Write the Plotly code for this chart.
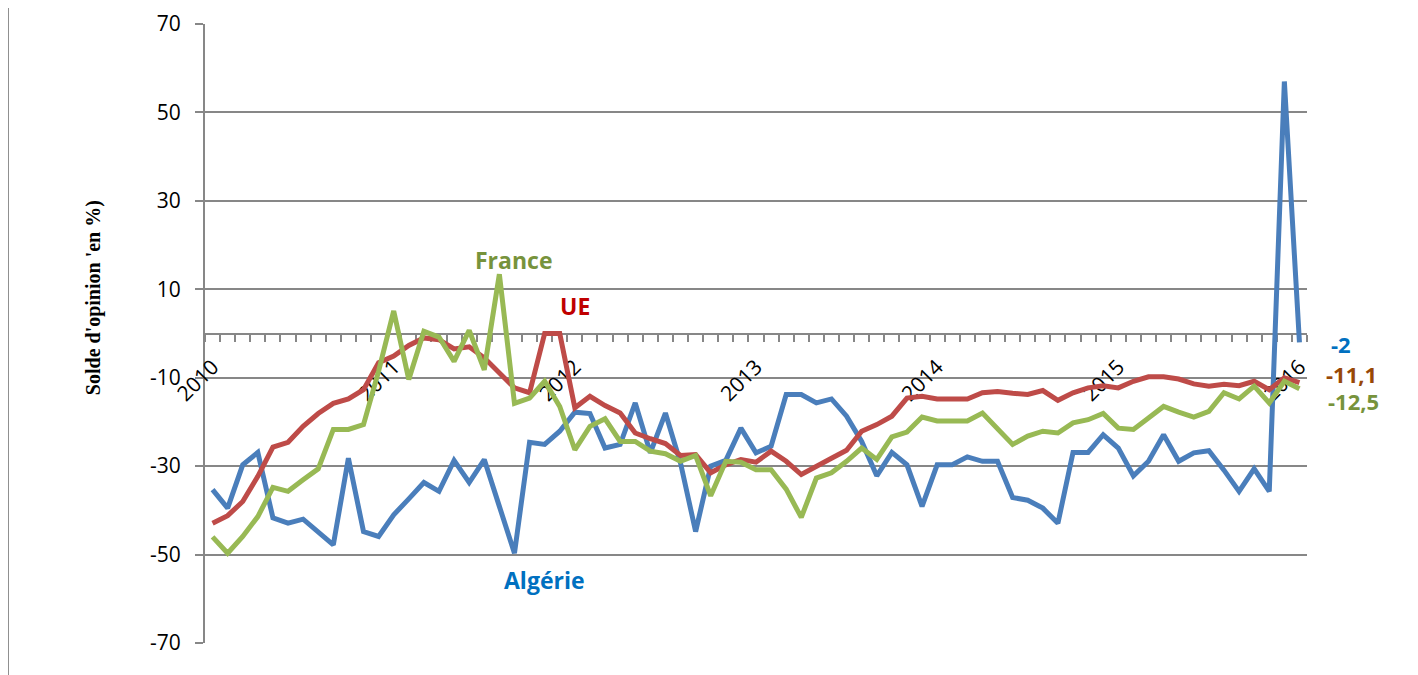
import plotly.graph_objects as go

# Monthly categories: January 2010 .. January 2016 (73 months)
years = ["2010", "2011", "2012", "2013", "2014", "2015", "2016"]
months = [f"{y}-{m:02d}" for y in years[:-1] for m in range(1, 13)] + ["2016-01"]
year_ticks = [f"{y}-01" for y in years]

algerie = [-35.3, -39.5, -29.7, -26.9, -41.7, -42.9, -42.0, -44.8, -47.8, -28.2, -44.8, -45.9,
           -41.0, -37.4, -33.7, -35.7, -28.7, -33.7, -28.5, -39.1, -49.7, -24.6, -25.1, -22.1,
           -17.8, -18.1, -25.9, -25.1, -15.7, -27.0, -18.0, -29.3, -44.8, -30.0, -28.7, -21.4,
           -27.0, -25.5, -13.8, -13.8, -15.7, -14.8, -18.7, -24.4, -32.2, -26.9, -29.7, -39.1,
           -29.7, -29.7, -27.9, -28.9, -28.9, -37.1, -37.7, -39.5, -42.9, -26.9, -26.9, -22.9,
           -25.9, -32.2, -28.9, -22.9, -28.9, -27.0, -26.5, -30.9, -35.7, -30.6, -35.7, 57.0,
           -2.0]
ue = [-42.9, -41.2, -38.0, -32.3, -25.7, -24.6, -21.0, -18.1, -15.8, -14.8, -12.7, -6.6,
      -5.1, -2.7, -1.0, -1.4, -3.5, -3.0, -5.5, -8.9, -12.3, -13.4, 0.0, 0.0,
      -16.8, -14.2, -16.3, -18.0, -22.5, -23.8, -24.9, -27.6, -27.4, -31.5, -29.7, -28.5,
      -29.1, -26.6, -28.9, -31.9, -30.2, -28.2, -26.4, -22.1, -20.6, -18.7, -14.6, -14.2,
      -14.8, -14.8, -14.8, -13.4, -13.1, -13.5, -13.8, -12.9, -15.1, -13.4, -12.3, -11.8,
      -12.3, -10.8, -9.8, -9.8, -10.3, -11.4, -11.9, -11.5, -11.8, -10.8, -12.7, -10.0,
      -11.1]
france = [-46.0, -49.7, -45.9, -41.4, -34.8, -35.7, -33.1, -30.6, -21.7, -21.7, -20.6, -8.5,
          5.1, -10.4, 0.5, -0.8, -6.3, 0.7, -8.2, 13.4, -15.8, -14.6, -10.8, -16.5,
          -26.3, -21.0, -19.3, -24.4, -24.4, -26.6, -27.2, -28.9, -27.6, -36.7, -28.9, -29.1,
          -30.8, -30.8, -35.2, -41.6, -32.7, -31.5, -28.9, -25.9, -28.5, -23.4, -22.3, -18.9,
          -19.8, -19.8, -19.8, -18.0, -21.4, -25.1, -23.2, -22.1, -22.5, -20.2, -19.5, -18.1,
          -21.4, -21.7, -19.1, -16.5, -17.8, -18.9, -17.6, -13.4, -14.8, -11.9, -15.7, -10.8,
          -12.5]

end_labels = ["-2", "-11,1", "-12,5"]
y_ticks = [-70, -50, -30, -10, 10, 30, 50, 70]
y_ticktext = ["-70", "-50", "-30", "-10", "10", "30", "50", "70"]

GRID = "#878787"
C_ALG, C_UE, C_FR = "#4A7EBB", "#BE4B48", "#98B954"

fig = go.Figure()
# invisible helper trace so the boundary-tick axis exists
fig.add_trace(go.Scatter(x=[-0.5, len(months) - 0.5], y=[0, 0], xaxis="x2", mode="lines",
                         line=dict(width=0), hoverinfo="skip", showlegend=False))
for name, vals, col in [("Algérie", algerie, C_ALG), ("UE", ue, C_UE), ("France", france, C_FR)]:
    fig.add_trace(go.Scatter(x=months, y=vals, mode="lines", name=name,
                             line=dict(color=col, width=5), showlegend=False))

fig.update_layout(
    width=1418, height=675,
    margin=dict(l=197, r=119, t=16, b=40),
    paper_bgcolor="white", plot_bgcolor="white",
    font=dict(family="Open Sans", size=21, color="black"),
    xaxis=dict(type="category", categoryorder="array", categoryarray=months,
               range=[-0.5, len(months) - 0.5], anchor="free", position=0.5,
               tickmode="array", tickvals=year_ticks, ticktext=years, tickangle=-45,
               ticks="", showline=False, showgrid=False, zeroline=False,
               ticklabelstandoff=16, automargin=False, layer="below traces"),
    xaxis2=dict(overlaying="x", range=[-0.5, len(months) - 0.5], anchor="free", position=0.5,
                tickmode="linear", tick0=-0.5, dtick=1, ticks="outside", ticklen=7,
                tickwidth=2, tickcolor=GRID, showticklabels=False, showline=True,
                linecolor=GRID, linewidth=2, showgrid=False, zeroline=False,
                automargin=False, layer="below traces"),
    yaxis=dict(range=[-70, 70], tickmode="array", tickvals=y_ticks, ticktext=y_ticktext,
               showgrid=True, gridcolor=GRID, gridwidth=2, showline=True, linecolor=GRID,
               linewidth=2, ticks="outside", ticklen=8, tickwidth=2, tickcolor=GRID,
               zeroline=False, ticklabelstandoff=10, automargin=False, layer="below traces"),
)

lab_font = dict(family="Open Sans", size=23)
fig.add_annotation(x=months[20], y=16.6, text="<b>France</b>", showarrow=False,
                   font=dict(color="#77933C", **lab_font))
fig.add_annotation(x=months[24], y=6.2, text="<b>UE</b>", showarrow=False,
                   font=dict(color="#C00000", **lab_font))
fig.add_annotation(x=months[22], y=-55.8, text="<b>Algérie</b>", showarrow=False,
                   font=dict(color="#0070C0", **lab_font))

end_font = dict(family="Open Sans", size=22)
fig.add_annotation(x=months[-1], y=algerie[-1], text=f"<b>{end_labels[0]}</b>", showarrow=False,
                   xanchor="center", xshift=42, yshift=-2, borderpad=0,
                   font=dict(color="#0070C0", **end_font))
fig.add_annotation(x=months[-1], y=ue[-1], text=f"<b>{end_labels[1]}</b>", showarrow=False,
                   xanchor="center", xshift=52, yshift=9, borderpad=0,
                   font=dict(color="#984807", **end_font))
fig.add_annotation(x=months[-1], y=france[-1], text=f"<b>{end_labels[2]}</b>", showarrow=False,
                   xanchor="center", xshift=54, yshift=-12, borderpad=0,
                   font=dict(color="#77933C", **end_font))

# y-axis title
fig.add_annotation(xref="paper", x=-0.1016, xanchor="center", y=8, yanchor="middle",
                   text="<b>Solde d'opinion 'en %)</b>", textangle=-90, showarrow=False,
                   font=dict(family="Liberation Serif", size=20, color="black"))

# left frame border
fig.add_shape(type="line", xref="paper", yref="paper", x0=-0.1788, x1=-0.1788,
              y0=-0.07, y1=1.04, line=dict(color="#8c8c8c", width=2))

fig.write_html("out.html")
